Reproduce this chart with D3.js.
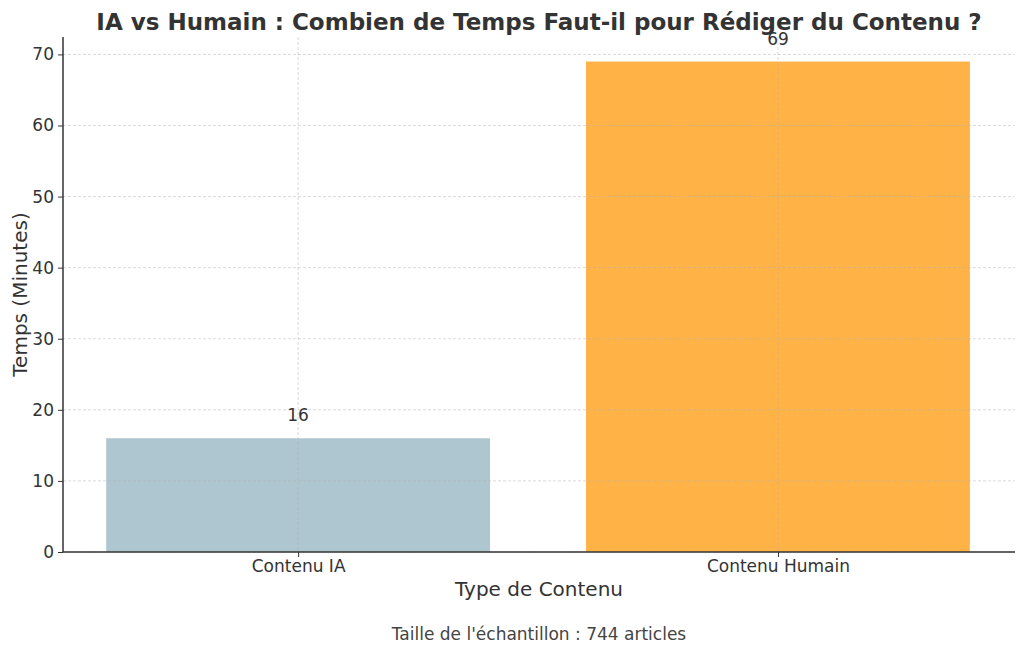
<!DOCTYPE html>
<html><head><meta charset="utf-8">
<script src="https://cdn.jsdelivr.net/npm/d3@7"></script>
<style>body{margin:0;background:#fff;} svg{display:block;font-family:"DejaVu Sans",sans-serif;}</style>
</head><body><svg id="c" width="1024" height="650"></svg>
<script>
const categories = ["Contenu IA", "Contenu Humain"];
const values = [16, 69];
const colors = ["#AEC6CF", "#FFB347"];
const yTicks = [0, 10, 20, 30, 40, 50, 60, 70];
const titleText = "IA vs Humain : Combien de Temps Faut-il pour Rédiger du Contenu ?";
const xLabel = "Type de Contenu";
const yLabel = "Temps (Minutes)";
const footnote = "Taille de l'échantillon : 744 articles";

const svg = d3.select("#c");
const L = 63, R = 1015, T = 37, B = 552;
const x = d3.scaleLinear().domain([-0.49, 1.494]).range([L, R]);
const y = d3.scaleLinear().domain([0, 72.45]).range([B, T]);
const bw = 0.8;
const txt = "#333333";

// bars
svg.append("g").selectAll("rect").data(values).join("rect")
  .attr("x", (d,i) => x(i - bw/2))
  .attr("width", (d,i) => x(i + bw/2) - x(i - bw/2))
  .attr("y", d => y(d))
  .attr("height", d => y(0) - y(d))
  .attr("fill", (d,i) => colors[i]);

// grid (on top)
const grid = svg.append("g").attr("stroke", "#b0b0b0").attr("stroke-opacity", 0.6)
  .attr("stroke-dasharray", "3,2").attr("stroke-width", 0.8);
grid.selectAll("line.h").data(yTicks).join("line").attr("class","h")
  .attr("x1", L).attr("x2", R).attr("y1", d => y(d)).attr("y2", d => y(d));
grid.selectAll("line.v").data(categories).join("line").attr("class","v")
  .attr("x1", (d,i) => x(i)).attr("x2", (d,i) => x(i)).attr("y1", T).attr("y2", B);

// axes
const yAxis = svg.append("g").attr("transform", `translate(${L},0)`)
  .call(d3.axisLeft(y).tickValues(yTicks).tickSize(5).tickPadding(4));
const xAxis = svg.append("g").attr("transform", `translate(0,${B})`)
  .call(d3.axisBottom(x).tickValues([0,1]).tickFormat(i => categories[i]).tickSize(5).tickPadding(3));
[yAxis, xAxis].forEach(g => {
  g.select(".domain").attr("stroke", "#333").attr("stroke-width", 1.5);
  g.selectAll(".tick line").attr("stroke", "#333").attr("stroke-width", 1);
  g.selectAll(".tick text").attr("fill", txt).style("font-size", "17px").style("font-family", "DejaVu Sans");
});
xAxis.select(".domain").attr("d", `M${L},0H${R}`);
yAxis.select(".domain").attr("d", `M0,${B}V${T}`);

// value labels
svg.append("g").selectAll("text").data(values).join("text")
  .attr("x", (d,i) => x(i)).attr("y", d => y(d) - 17)
  .attr("text-anchor", "middle").attr("fill", txt).style("font-size", "17px")
  .text(d => d);

// title and labels
svg.append("text").attr("x", (L+R)/2).attr("y", 30).attr("text-anchor", "middle")
  .attr("fill", txt).style("font-size", "23px").style("font-weight", "bold").text(titleText);
svg.append("text").attr("x", (L+R)/2).attr("y", 596).attr("text-anchor", "middle")
  .attr("fill", txt).style("font-size", "20px").text(xLabel);
svg.append("text").attr("transform", `translate(27,${(T+B)/2}) rotate(-90)`).attr("text-anchor", "middle")
  .attr("fill", txt).style("font-size", "20px").text(yLabel);
svg.append("text").attr("x", (L+R)/2).attr("y", 640).attr("text-anchor", "middle")
  .attr("fill", "#444").style("font-size", "17px").text(footnote);
</script></body></html>
